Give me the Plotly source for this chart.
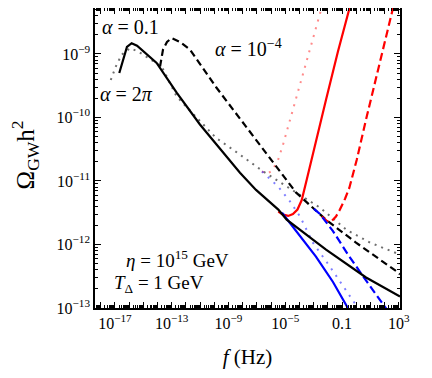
import plotly.graph_objects as go

# log10(f / Hz) and log10(Omega_GW h^2)
solid_black_x = [-16.69, -16.36, -16.15, -15.82, -15.44, -14.06, -12.65, -11.01, -9.88, -8.19, -7.06,
                 -5.49, -4.90, -2.13, 0.69, 3.08]
solid_black_y = [-9.30, -9.04, -8.89, -8.83, -8.87, -9.14, -9.61, -10.11, -10.41, -10.87, -11.14,
                 -11.45, -11.61, -12.08, -12.52, -12.82]

dotted_gray_x = [-17.29, -16.92, -16.52, -15.94, -15.37, -13.70, -12.65, -11.01, -9.88, -8.66, -6.55,
                 -4.46, -2.56, -0.68, 0.97, 3.08]
dotted_gray_y = [-9.41, -9.19, -9.01, -8.91, -8.96, -9.20, -9.67, -10.06, -10.32, -10.51, -10.85,
                 -11.15, -11.42, -11.77, -11.97, -12.16]

dashed_black_x = [-13.82, -13.61, -13.33, -13.00, -12.41, -11.71, -9.88, -8.19, -6.31, -4.25, -2.13,
                  -0.02, 2.94, 3.08]
dashed_black_y = [-9.20, -8.93, -8.81, -8.75, -8.81, -8.93, -9.52, -10.02, -10.59, -11.18, -11.61,
                  -11.97, -12.44, -12.47]

red_dotted_x = [-6.64, -6.31, -5.94, -5.51, -5.16, -4.67, -3.96, -3.26, -2.37, -2.27]
red_dotted_y = [-10.85, -10.89, -10.84, -10.67, -10.43, -10.04, -9.48, -8.93, -8.24, -8.14]

blue_dotted_x = [-6.64, -5.49, -4.67, -3.96, -3.03, -1.85, 0.12, 0.40]
blue_dotted_y = [-10.85, -11.09, -11.32, -11.56, -11.98, -12.35, -13.00, -13.12]

red_solid_x = [-5.49, -5.16, -4.79, -4.46, -4.14, -3.84, -3.49, -2.91, -2.13, -1.29, -0.37]
red_solid_y = [-11.48, -11.53, -11.55, -11.52, -11.45, -11.30, -10.98, -10.43, -9.72, -8.96, -8.19]

blue_solid_x = [-5.23, -3.96, -2.84, -1.64, -0.60, -0.44]
blue_solid_y = [-11.50, -11.86, -12.19, -12.59, -13.00, -13.06]

red_dashed_x = [-2.41, -2.06, -1.73, -1.43, -1.15, -0.79, -0.49, 0.03, 0.68, 1.67, 2.57, 2.66]
red_dashed_y = [-11.56, -11.63, -11.63, -11.56, -11.45, -11.28, -11.11, -10.67, -10.04, -9.14, -8.30, -8.21]

blue_dashed_x = [-2.98, -2.56, -1.64, -0.49, 0.76, 2.09, 2.30]
blue_dashed_y = [-11.44, -11.52, -11.79, -12.19, -12.59, -13.00, -13.07]

x_tick_exps = [-17, -13, -9, -5, -1, 3]
x_tick_text = ["10<sup>−17</sup>", "10<sup>−13</sup>", "10<sup>−9</sup>", "10<sup>−5</sup>", "0.1",
               "10<sup>3</sup>"]
y_tick_exps = [-13, -12, -11, -10, -9]

FONT = "Liberation Serif"
DOT = "2px,5px"
DASH_BLACK = "7px,4px"
DASH_COLOR = "8px,4px"


def pw(vals):
    return [10 ** v for v in vals]


def line_trace(xs, ys, color, dash, width=2.2):
    return go.Scatter(x=pw(xs), y=pw(ys), mode="lines", showlegend=False,
                      line=dict(color=color, dash=dash, width=width))


fig = go.Figure()
fig.add_trace(line_trace(dotted_gray_x, dotted_gray_y, "rgb(110,110,110)", DOT, 2))
fig.add_trace(line_trace(red_dotted_x, red_dotted_y, "rgba(255,60,60,0.6)", "2px,6px", 2))
fig.add_trace(line_trace(blue_dotted_x, blue_dotted_y, "rgba(40,40,255,0.6)", "2px,6px", 2))
fig.add_trace(line_trace(dashed_black_x, dashed_black_y, "black", DASH_BLACK))
fig.add_trace(line_trace(red_dashed_x, red_dashed_y, "red", DASH_COLOR))
fig.add_trace(line_trace(blue_dashed_x, blue_dashed_y, "blue", DASH_COLOR))
fig.add_trace(line_trace(red_solid_x, red_solid_y, "red", "solid"))
fig.add_trace(line_trace(blue_solid_x, blue_solid_y, "blue", "solid"))
fig.add_trace(line_trace(solid_black_x, solid_black_y, "black", "solid"))

x_decades = list(range(-19, 4))
x_major = [10.0 ** e for e in x_decades]
x_major_text = [x_tick_text[x_tick_exps.index(e)] if e in x_tick_exps else "" for e in x_decades]
x_minor = [m * 10.0 ** e for e in x_decades for m in range(2, 10)]

y_major = [10.0 ** e for e in y_tick_exps]
y_major_text = ["10<sup>−%d</sup>" % -e for e in y_tick_exps]
y_minor = [m * 10.0 ** e for e in range(-13, -8) for m in range(2, 10)]

axis_common = dict(type="log", showline=True, linecolor="black", linewidth=1.5, mirror="ticks",
                   ticks="inside", tickcolor="black", showgrid=False, zeroline=False,
                   automargin=False, tickfont=dict(family=FONT, size=16, color="black"))

fig.update_xaxes(range=[-18.4, 3.08], tickvals=x_major, ticktext=x_major_text, ticklen=6,
                 minor=dict(tickvals=x_minor, ticks="inside", ticklen=3, tickcolor="black"),
                 title=dict(text="<i>f</i> (Hz)", font=dict(family=FONT, size=21, color="black"),
                            standoff=18),
                 **axis_common)
fig.update_yaxes(range=[-13, -8.276], tickvals=y_major, ticktext=y_major_text, ticklen=6,
                 minor=dict(tickvals=y_minor, ticks="inside", ticklen=3, tickcolor="black"),
                 **axis_common)

# y axis title placed as a rotated annotation
fig.add_annotation(x=-0.228, y=0.51, xref="paper", yref="paper", text="Ω<sub>GW</sub>h<sup>2</sup>",
                   textangle=-90, showarrow=False, xanchor="center", yanchor="middle",
                   font=dict(family=FONT, size=25, color="black"))

labels = [
    (0.118, 0.930, 20, "<i>α</i> = 0.1"),
    (0.102, 0.709, 20, "<i>α</i> = 2<i>π</i>"),
    (0.502, 0.861, 20, "<i>α</i> = 10<sup>−4</sup>"),
    (0.272, 0.162, 19, "<i>η</i> = 10<sup>15</sup> GeV"),
    (0.210, 0.079, 19, "<i>T</i><sub>Δ</sub> = 1 GeV"),
]
for xp, yp, size, txt in labels:
    fig.add_annotation(x=xp, y=yp * 302 / 300, xref="paper", yref="paper", text=txt,
                       showarrow=False, xanchor="center", yanchor="middle",
                       font=dict(family=FONT, size=size, color="black"))

# the page body adds an 8px offset, so the canvas is shrunk by that much
fig.update_layout(width=424, height=370, margin=dict(l=87, r=32, t=0, b=70),
                  plot_bgcolor="white", paper_bgcolor="white")

fig.write_html("out.html")
